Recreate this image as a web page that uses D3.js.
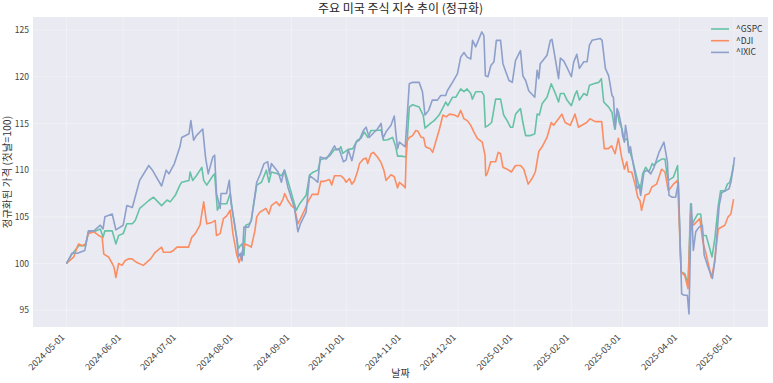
<!DOCTYPE html>
<html><head><meta charset="utf-8">
<script src="https://cdn.jsdelivr.net/npm/d3@7/dist/d3.min.js"></script>
<style>
body{margin:0;background:#fff;}
svg text{font-family:"Noto Sans CJK KR","Noto Sans",sans-serif;}
</style></head>
<body><svg id="c" width="773" height="383"></svg>
<script>
const seriesNames = ["^GSPC","^DJI","^IXIC"];
const colors = ["#66c2a5","#fc8d62","#8da0cb"];
const yTicks = [95,100,105,110,115,120,125];
const xTickLabels = ["2024-05-01","2024-06-01","2024-07-01","2024-08-01","2024-09-01","2024-10-01","2024-11-01","2024-12-01","2025-01-01","2025-02-01","2025-03-01","2025-04-01","2025-05-01"];
const startDate = "2024-05-01";

// days since start date / normalized values
const gspcDays = [0,3,6.7,10.4,12,15,18.5,20,21,25,27,28.5,31,33,36,37.6,40,43,45,47.6,50,52,55,56.7,59.5,62,63,67,67.6,69,71,74,75,76.7,80,81,82.5,84,87.6,89.5,91,94,95,96,97,98,100,101,104,106.6,109.3,110.7,112,115.7,117.5,119.3,122,125.6,127.5,131,132.9,135,137.5,138.8,140.2,143.8,146.5,149,150,151,153.8,156.5,159,161,162.8,164.7,166.5,169.2,172,173.3,175.6,178.3,180,181,183,185.7,187.4,189.2,192.8,195,196,199,201,203.7,206.4,207.3,208.5,211,212.8,215.5,217.3,219,221,221.9,223.7,227,228.2,229,230.6,232.4,234.6,237.3,239,240.9,242.7,244,245.5,248.2,249.5,251,253.7,256,257.3,258.5,260,262.7,265,267.3,269,270,272,273.6,276,277.8,279,280.4,282.8,284.6,285.9,288.2,291,292.4,293.7,296.4,298.2,299.7,301,302.2,303.7,305,306.5,307.7,309.3,311,312.4,313.7,315,316.6,318.4,320.2,321.1,323,325.7,327.2,328.1,329,331.8,334.1,336,338,339.8,341.2,342,343,345.1,346.7,347.9,349.7,352.9,354.4,356.3,357.6,359.9,361.3,362.6,363.5,364.7];
const gspcValues = [100,101,101.9,101.9,103.4,103.4,103.7,102.8,103.5,103.5,102.1,103,103.2,104.25,104.25,104.6,105.9,106.4,106.75,107.1,106.6,106.2,106.8,106.6,107.3,108.4,108.7,108.9,109.8,108.9,109.4,110.3,108.9,108.4,109.4,109.6,105.7,106.4,106.4,107.5,105.3,101.6,101.9,102.1,100.9,104.1,104.25,104.6,108.4,108.7,110,108.7,109.8,109.6,109.4,110,108.2,105.7,106.4,107.3,109.5,109.8,110,111.1,111.2,111.5,112.2,112.2,112.5,111.8,112.2,112.3,113.2,113.4,114.1,113.5,114.25,114.25,114.3,113.2,113.25,113.5,112.5,111.5,111.5,111.4,116.75,117,116.75,115.9,114.5,115,115.3,115.9,116.9,117.3,116.9,117.8,117.8,118.7,118.4,118.7,118.2,117.6,118.4,118.4,118,114.6,114.8,115.1,117.6,117.6,115.9,115.3,114.6,114.6,116,116.6,115.1,113.7,113.7,113.9,116,115.9,117.1,117.8,119.25,118.2,117.3,118.2,118.2,117.5,116.9,118,118.5,117.5,118.2,118,119.1,119.25,119.4,119.8,117.3,116.75,116.2,114.4,116.4,115.1,114.4,113.2,113.4,112.1,111.2,109.8,108.7,108,109.6,110.3,109.8,110.7,110.5,110.9,111.2,111.2,109.8,108.9,109.25,110.5,99.1,98.9,97.8,106.4,104.1,104.6,105.3,105.3,103,103,100.7,102.6,106.2,107.8,107.8,108.5,108.7,109.4,110.6];

const djiDays = [0,4,5.8,6.7,8.5,10.4,12,15,17.6,19.5,20.4,23,25,26,27,28.5,30.4,32,34,35.8,38.5,42,46,48.5,52,53,56.7,58.5,60.4,64,66.7,68.5,70.4,73,75,76.7,79.5,81.3,82,84,85.8,87.6,89.5,91,93,94.4,95.7,97.5,100,101,103,104,105.7,107.5,109,110.7,112,114.7,116.5,118.4,119.3,121,122.9,124.7,126.5,128.4,130.1,132,134.3,137.5,139,141,143.8,145,146.5,150,151.7,152.9,154.7,156,157.3,159,160.2,162.3,163.8,164.7,166.5,167.8,170,172,173.5,174.7,175.6,177.4,179.2,181,182,183.8,185.2,185.9,187.4,189.2,191,192,193.9,195.2,196.3,198.8,200.2,202.1,203.9,205.8,207.6,209.4,212.1,214,215.5,217.3,219.1,221,222.7,224.6,227.3,228.8,229.2,230,231.9,234.6,236,237.3,238.6,240.9,243.2,245.5,248.2,250,252.4,254.5,256.3,258.2,260,262.7,265,266.3,269,270.8,272.6,275.4,278,279.9,281.7,284.4,286.2,289,292.6,294,296.2,298,299.9,301.7,303.5,305,306.3,307.2,309,310.8,312.3,313.5,314.4,316.3,318.5,320,322.6,325.3,327.2,329,331.8,334.1,336,338,339.8,341.2,342,343.4,346.2,347.9,349.7,352.5,354,356.3,359.9,361.7,363.2,364.7];
const djiValues = [100,100.7,101.75,102.1,101.9,102.1,103.2,103.4,103,102.8,101,100.7,100,99.6,98.5,100,99.8,100.3,100.5,100.5,100.1,99.8,100.5,101.2,101.75,101.2,101.2,101.4,101.75,101.75,101.75,102.8,103.2,104.1,106.6,104.25,104.4,104.6,103,103.2,104.8,105.1,105.7,103.2,101,100.1,101,102.1,101.9,101.75,103.5,105,105.5,105.7,105.9,105.3,106.2,106.6,106.2,106.9,107.5,106.75,106.2,105.9,104.25,105,105.7,106.6,107.4,107.4,108.8,108.8,109,108.4,109.4,109.4,109.1,108.7,109.1,108.5,108.8,109.8,110.7,111.2,111.3,110.7,111.75,111.9,111.4,110.8,110,108.9,109.1,109.5,109.3,108.1,108.7,108.4,108.1,113,113.5,113.7,114.25,114.2,113.5,113.5,112.5,112.3,111.9,113.2,114.4,115.9,115.7,116,115.9,115.7,116.4,115.5,115.3,114.8,114.1,113.4,113,111.6,109.4,109.6,110.9,110.9,111.9,111.75,110.3,110.1,109.8,110.5,110.5,110.1,108.5,109.1,109.8,112,112.5,113.5,115.1,114.8,115.5,116,115.1,114.8,116,114.6,114.8,115.1,115.5,115.2,115.2,112.3,112.3,112.6,111.75,113.4,111.4,110.1,110.9,109.8,109.8,108.5,107.1,106.75,105.7,107.3,107.5,108.2,108.5,110.1,109.8,107.8,108.5,108.9,99.1,98.7,97.3,105.5,104,104.25,104.8,102.3,101,98.5,99.8,103.7,104.1,105,105.3,106.9];

const ixicDays = [0,3,6,10,12,15,18.5,20,21,25,27,31,33,36,40,45,47,49,52,54.5,56,59,62,63,67,68,69.5,71,74.5,76,77.5,80,81,82,84,84.5,87.5,89,90,91,93,94,95,96,97,99.5,101,104,106,108,110,111,112,115.7,117.5,119,121,124.7,126.5,128,131,132.9,135.6,137.4,138.7,142,144,146.5,147.5,149,151.4,152.9,154,156,158.3,160,162.3,163.8,165.5,167.4,170,172,173,174.7,177.4,179.2,180,181,182,185.2,187.4,189.2,192.8,194.6,196,198,200,202.8,204.6,207.3,208.2,211,213.7,215.5,217.3,219,221,222,223.7,227,228.2,229,230.4,232,233.7,235,237.3,238.6,241.9,243.7,245.5,248.2,249.5,251,252.7,256,257.3,258.2,259,262.7,264.5,265.4,266.9,269,270,271.8,273.6,276,277.3,279,280.4,282.8,284.6,285.9,287.3,291.8,292.8,294.6,296.4,298.2,299,300,301,301.8,303.3,304,305,305.6,306.5,307.4,308.3,309.3,311,312,313,313.9,315.7,317.6,319.4,321.2,323.9,326.6,328.5,329.4,331.2,333,334.5,336.3,337.6,339.4,340.3,341.6,342.7,344,345.8,347.6,348.6,350.4,353.1,354.6,356.8,358.2,360.4,362.2,363.2,364.4,365.2];
const ixicValues = [100,101.1,101.1,101.4,103.5,103.5,104.1,103.7,105,105.3,103.6,104.1,106.2,106,108.9,110.5,110,109.3,108.3,110,109.6,110.7,112.5,113.5,113.9,115.3,113.2,113.7,114.4,111.4,109.6,111.4,111.6,107.5,105.9,107.5,107.5,108.9,106.4,105.3,102.8,100.7,101.1,100.3,103.9,103.9,104.6,108.7,109.6,110.7,110.9,109.6,110.7,109.8,108.7,110,108.2,105.9,103.4,104.3,105.5,109.4,109,108.7,111.4,111.2,111.75,112.6,112.2,112.3,110.9,111.1,112.2,111,113,113.2,114.25,114.6,113.5,113.9,114.4,115,113.4,114.1,114.8,115.8,114.1,112.3,113,112.5,119.25,119.4,119.4,118.4,115.9,116.4,117.5,117.5,118,118,118.5,119.4,120.3,122.1,122.6,122.1,121.9,123.9,123.2,124.8,124.4,120.1,120,121.2,121.6,123.9,123.9,121.4,119.6,119.4,121.75,122.8,120.1,119.6,118.5,117.8,120.7,119.8,121.4,122.3,123.9,124,122.3,119.8,122,121.7,121,120,121.6,122.4,120.9,121.6,121.6,123.4,123.9,124.1,123.9,120.9,120.1,118,117.8,114.4,116.6,116.2,114.8,113.7,113,114.8,113.7,111.9,112.5,111.2,109.4,108,108.4,107.3,109.8,110,109.6,110.3,111.9,113,110.9,107.3,107.1,107.1,108.7,96.75,96.6,96.6,94.6,106.4,101.4,103.4,103.9,104.1,100.9,99.8,98.4,100.5,106.2,107.6,107.8,108,108.7,110.1,111.4];

const seriesDays = [gspcDays, djiDays, ixicDays];
const seriesValues = [gspcValues, djiValues, ixicValues];

const start = Date.parse(startDate + "T00:00:00Z");
const toDate = d => new Date(start + d * 864e5);
const svg = d3.select("#c");
const L = 33, R = 768, T = 17, B = 327;

const x = d3.scaleUtc().domain([toDate(-18.3), toDate(383.5)]).range([L, R]);
const y = d3.scaleLinear().domain([93.2, 126.4]).range([B, T]);

svg.append("rect").attr("x", L).attr("y", T).attr("width", R - L).attr("height", B - T).attr("fill", "#eaeaf2");

const xTickDates = xTickLabels.map(s => new Date(Date.parse(s + "T00:00:00Z")));
const grid = svg.append("g").attr("stroke", "#fff").attr("stroke-opacity", 0.3).attr("stroke-width", 1);
xTickDates.forEach(d => grid.append("line").attr("x1", x(d)).attr("x2", x(d)).attr("y1", T).attr("y2", B));
yTicks.forEach(v => grid.append("line").attr("x1", L).attr("x2", R).attr("y1", y(v)).attr("y2", y(v)));

svg.append("clipPath").attr("id", "cp").append("rect").attr("x", L).attr("y", T).attr("width", R - L).attr("height", B - T);

const line = d3.line().x(p => x(p[0])).y(p => y(p[1]));
seriesNames.forEach((n, i) => {
  const pts = seriesDays[i].map((d, j) => [toDate(d), seriesValues[i][j]]);
  svg.append("path").attr("d", line(pts)).attr("fill", "none").attr("stroke", colors[i])
    .attr("stroke-width", 1.6).attr("stroke-linejoin", "round").attr("clip-path", "url(#cp)");
});

// y axis
const yAxis = svg.append("g").attr("transform", `translate(${L},0)`)
  .call(d3.axisLeft(y).tickValues(yTicks).tickSize(0).tickPadding(4));
yAxis.select(".domain").remove();
yAxis.selectAll("text").attr("font-size", 8.5).attr("fill", "#444").style("font-family", '"Noto Sans CJK KR"');

// x axis
const xAxis = svg.append("g").attr("transform", `translate(0,${B})`)
  .call(d3.axisBottom(x).tickValues(xTickDates).tickSize(0).tickFormat((d, i) => xTickLabels[i]));
xAxis.select(".domain").remove();
xAxis.selectAll("text")
  .attr("font-size", 9).attr("fill", "#444").style("font-family", '"Noto Sans CJK KR"')
  .attr("text-anchor", "end").attr("dy", null).attr("y", null)
  .attr("transform", "translate(-2,11) rotate(-45)");

// labels
svg.append("text").attr("x", (L + R) / 2).attr("y", 13).attr("text-anchor", "middle")
  .attr("font-size", 12).attr("fill", "#262626").text("주요 미국 주식 지수 추이 (정규화)");
svg.append("text").attr("x", (L + R) / 2).attr("y", 377).attr("text-anchor", "middle")
  .attr("font-size", 10).attr("fill", "#333").text("날짜");
svg.append("text").attr("transform", `translate(11,${(T + B) / 2}) rotate(-90)`).attr("text-anchor", "middle")
  .attr("font-size", 10.5).attr("fill", "#333").text("정규화된 가격 (첫날=100)");

// legend
const lg = svg.append("g");
seriesNames.forEach((n, i) => {
  const yy = 29 + i * 11.7;
  lg.append("line").attr("x1", 711).attr("x2", 729).attr("y1", yy).attr("y2", yy).attr("stroke", colors[i]).attr("stroke-width", 1.6);
  lg.append("text").attr("x", 736).attr("y", yy + 3).attr("font-size", 8.5).attr("fill", "#333").text(n);
});
</script></body></html>
